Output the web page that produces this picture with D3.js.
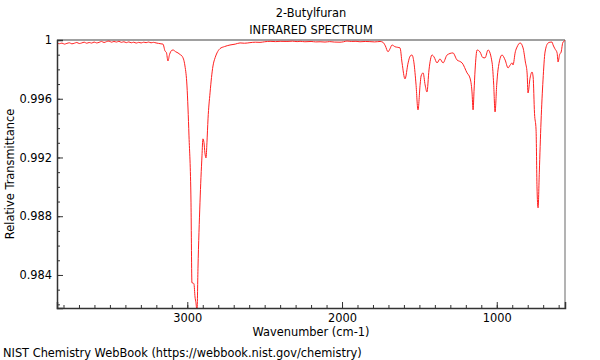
<!DOCTYPE html>
<html>
<head>
<meta charset="utf-8">
<script src="https://cdn.jsdelivr.net/npm/d3@7"></script>
<style>
  body { margin: 0; background: #fff; }
  svg { display: block; font-family: "DejaVu Sans", sans-serif; }
</style>
</head>
<body>
<svg id="chart" width="600" height="360"></svg>
<script>
const title = "2-Butylfuran";
const subtitle = "INFRARED SPECTRUM";
const xLabel = "Wavenumber (cm-1)";
const yLabel = "Relative Transmittance";
const footer = "NIST Chemistry WebBook (https://webbook.nist.gov/chemistry)";

const xDomain = [3842, 559];
const yDomain = [0.98175, 1.0];
const xTickValues = [3000, 2000, 1000];
const yTickValues = [0.984, 0.988, 0.992, 0.996, 1];

const wavenumbers = [
  3842,3826,3810,3794,3778,3762,3746,3730,3714,3698,3682,3666,3650,3634,3618,3602,3586,3570,3554,3538,
  3522,3506,3490,3474,3458,3442,3426,3410,3394,3378,3362,3346,3330,3314,3298,3282,3266,3250,3234,3218,
  3202,3186,3170,3157,3144,3135,3125,3115,3100,3092,3075,3060,3045,3034,3015,3002,2989,2976,2970,2963,
  2957,2950,2944,2937,2931,2918,2905,2899,2892,2886,2879,2873,2866,2853,2834,2820,2808,2789,2760,2724,
  2690,2659,2630,2595,2560,2530,2500,2465,2430,2400,2356,2320,2290,2271,2240,2200,2170,2142,2110,2080,
  2050,2013,1990,1968,1940,1910,1884,1850,1820,1790,1754,1735,1720,1703,1690,1677,1657,1640,1625,1612,
  1593,1573,1560,1548,1535,1522,1509,1495,1489,1476,1463,1451,1438,1418,1405,1386,1367,1347,1321,1283,
  1257,1240,1224,1192,1173,1160,1153,1147,1140,1127,1108,1090,1076,1056,1030,1020,1011,1000,992,966,
  946,927,913,901,895,880,869,849,830,815,804,798,785,772,765,756,746,740,733,725,
  714,701,688,668,655,643,636,624,610,604,594,584,572,565,559
];
const transmittance = [
  0.99978,0.99975,0.99979,0.99972,0.99977,0.99981,0.99974,0.99978,0.99983,0.99976,0.99980,0.99985,0.99978,0.99983,0.99979,0.99986,0.99980,0.99984,0.99990,0.99983,
  0.99989,0.99993,0.99985,0.99990,0.99986,0.99991,0.99984,0.99988,0.99982,0.99987,0.99981,0.99985,0.99979,0.99984,0.99980,0.99985,0.99982,0.99986,0.99981,0.99984,
  0.99980,0.99977,0.99974,0.99972,0.99925,0.99915,0.99857,0.99900,0.99930,0.99932,0.99920,0.99912,0.99900,0.99891,0.99823,0.99687,0.99347,0.98891,0.98347,0.98345,
  0.98340,0.98250,0.98211,0.98150,0.98442,0.98891,0.99211,0.99327,0.99300,0.99231,0.99197,0.99300,0.99463,0.99640,0.99823,0.99880,0.99912,0.99941,0.99955,0.99966,
  0.99972,0.99980,0.99978,0.99982,0.99985,0.99984,0.99988,0.99991,0.99989,0.99991,0.99990,0.99992,0.99989,0.99991,0.99988,0.99990,0.99987,0.99988,0.99986,0.99989,
  0.99986,0.99985,0.99988,0.99993,0.99990,0.99991,0.99988,0.99990,0.99989,0.99987,0.99990,0.99984,0.99960,0.99920,0.99940,0.99966,0.99954,0.99950,0.99946,0.99844,
  0.99735,0.99844,0.99890,0.99898,0.99844,0.99700,0.99524,0.99700,0.99755,0.99776,0.99694,0.99646,0.99796,0.99898,0.99884,0.99844,0.99871,0.99844,0.99898,0.99912,
  0.99864,0.99855,0.99844,0.99776,0.99741,0.99646,0.99524,0.99650,0.99796,0.99932,0.99918,0.99880,0.99878,0.99932,0.99844,0.99700,0.99510,0.99700,0.99796,0.99898,
  0.99864,0.99810,0.99830,0.99844,0.99830,0.99920,0.99952,0.99980,0.99946,0.99850,0.99776,0.99639,0.99740,0.99782,0.99748,0.99500,0.99388,0.99000,0.98857,0.99100,
  0.99442,0.99728,0.99918,0.99980,0.99985,0.99986,0.99966,0.99940,0.99912,0.99850,0.99900,0.99918,0.99986,0.99990,1.00000
];

const data = wavenumbers.map((w, i) => ({ w, t: transmittance[i] }));

const FS = 11.4;
const margin = { left: 57, right: 35, top: 40, bottom: 52 };
const W = 600, H = 360;
const iw = W - margin.left - margin.right;
const ih = H - margin.top - margin.bottom;

const svg = d3.select("#chart");
const g = svg.append("g").attr("transform", `translate(${margin.left},${margin.top})`);

const x = d3.scaleLinear().domain(xDomain).range([0, iw]);
const y = d3.scaleLinear().domain(yDomain).range([ih, 0]);

svg.append("defs").append("clipPath").attr("id", "clip")
  .append("rect").attr("x", 0).attr("y", 0).attr("width", iw).attr("height", ih);

// frame top/right (gray)
g.append("line").attr("x1", 0).attr("x2", iw).attr("y1", 0).attr("y2", 0)
  .attr("stroke", "#a0a0a0").attr("stroke-width", 2);
g.append("line").attr("x1", iw).attr("x2", iw).attr("y1", 0).attr("y2", ih)
  .attr("stroke", "#808080").attr("stroke-width", 1.2);

// spectrum
const line = d3.line().x(d => x(d.w)).y(d => y(d.t)).curve(d3.curveMonotoneX);
g.append("path").datum(data)
  .attr("clip-path", "url(#clip)")
  .attr("fill", "none").attr("stroke", "#ff2020").attr("stroke-width", 1)
  .attr("d", line);

// x axis
const xMinor = d3.range(3800, 500, -100);
const xAxisMinor = d3.axisBottom(x).tickValues(xMinor).tickSize(-3).tickFormat("");
const gxm = g.append("g").attr("transform", `translate(0,${ih})`).call(xAxisMinor);
gxm.select(".domain").remove();
const xAxis = d3.axisBottom(x).tickValues(xTickValues).tickSize(-6).tickPadding(6).tickFormat(d3.format("d"));
const gx = g.append("g").attr("transform", `translate(0,${ih})`).call(xAxis);
gx.select(".domain").attr("stroke", "#333").attr("stroke-width", 1.5);
gx.selectAll("text").attr("font-size", FS).attr("fill", "#000").attr("font-family", "DejaVu Sans");
g.selectAll(".tick line").attr("stroke", "#333");

// y axis
const yMinor = d3.range(0.982, 1.0005, 0.001);
const yAxisMinor = d3.axisLeft(y).tickValues(yMinor).tickSize(-3).tickFormat("");
const gym = g.append("g").call(yAxisMinor);
gym.select(".domain").remove();
const yAxis = d3.axisLeft(y).tickValues(yTickValues).tickSize(-6).tickPadding(5)
  .tickFormat(d => d === 1 ? "1" : d3.format(".3f")(d));
const gy = g.append("g").call(yAxis);
gy.select(".domain").attr("stroke", "#333").attr("stroke-width", 1.5);
gy.selectAll("text").attr("font-size", FS).attr("fill", "#000").attr("font-family", "DejaVu Sans");
g.selectAll(".tick line").attr("stroke", "#333");

// titles
svg.append("text").attr("x", margin.left + iw / 2).attr("y", 17).attr("text-anchor", "middle")
  .attr("font-size", FS).text(title);
svg.append("text").attr("x", margin.left + iw / 2).attr("y", 34).attr("text-anchor", "middle")
  .attr("font-size", FS).text(subtitle);
svg.append("text").attr("x", margin.left + iw / 2).attr("y", 336).attr("text-anchor", "middle")
  .attr("font-size", FS).text(xLabel);
svg.append("text").attr("transform", `translate(14,${margin.top + ih / 2}) rotate(-90)`)
  .attr("text-anchor", "middle").attr("font-size", FS).text(yLabel);
svg.append("text").attr("x", 3).attr("y", 357).attr("font-size", FS).text(footer);
</script>
</body>
</html>
